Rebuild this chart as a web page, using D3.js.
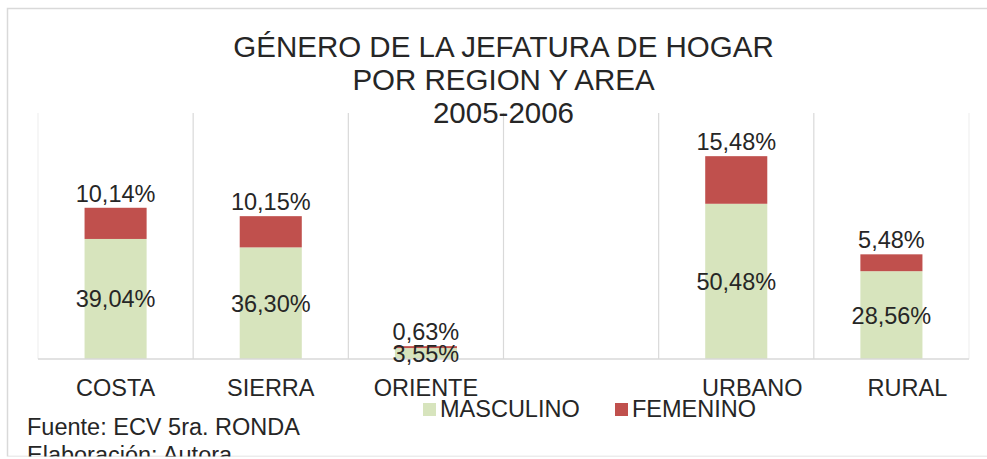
<!DOCTYPE html>
<html>
<head>
<meta charset="utf-8">
<script src="https://cdn.jsdelivr.net/npm/d3@7"></script>
<style>
  body { margin: 0; background: #fff; }
  text { font-family: "Liberation Sans", Arial, sans-serif; fill: #262626; }
</style>
</head>
<body>
<div id="chart"></div>
<script>
// datos
const categories = ["COSTA", "SIERRA", "ORIENTE", " ", "URBANO", "RURAL"];
const masculino = [39.04, 36.30, 3.55, null, 50.48, 28.56];
const femenino = [10.14, 10.15, 0.63, null, 15.48, 5.48];
const seriesNames = ["MASCULINO", "FEMENINO"];
const titleLines = ["GÉNERO DE LA JEFATURA DE HOGAR", "POR REGION Y AREA", "2005-2006"];
const footerLines = ["Fuente: ECV 5ra. RONDA", "Elaboración: Autora"];

const svgWidth = 987;
const svgHeight = 459;
const margin = { top: 113, right: 18, bottom: 100, left: 38 };
const width = svgWidth - margin.left - margin.right;
const height = svgHeight - margin.top - margin.bottom;
const colors = ["#D7E4BD", "#C0504D"];

const fmt = v => d3.format(".2f")(v).replace(".", ",") + "%";

const svg = d3.select("#chart").append("svg")
  .attr("width", svgWidth)
  .attr("height", svgHeight);

// recorta todo al borde inferior del grafico
svg.append("clipPath").attr("id", "frame")
  .append("rect").attr("x", 0).attr("y", 0).attr("width", svgWidth).attr("height", 456.5);

const root = svg.append("g").attr("clip-path", "url(#frame)");

// borde del area del grafico
root.append("rect")
  .attr("x", 7.5).attr("y", 8.5)
  .attr("width", svgWidth + 10).attr("height", 448)
  .attr("fill", "none")
  .attr("stroke", "#D9D9D9")
  .attr("stroke-width", 1.5);

const xScale = d3.scaleBand()
  .domain(categories)
  .range([0, width])
  .paddingInner(0.6)
  .paddingOuter(0.3);

const bandStep = xScale.step();

const yScale = d3.scaleLinear()
  .domain([0, 80])
  .range([height, 0]);

const g = root.append("g")
  .attr("transform", "translate(" + margin.left + "," + margin.top + ")");

// lineas de division entre categorias
const edges = d3.range(categories.length + 1);
g.selectAll(".grid")
  .data(edges)
  .enter().append("line")
  .attr("x1", i => i * bandStep)
  .attr("x2", i => i * bandStep)
  .attr("y1", 0)
  .attr("y2", height)
  .attr("stroke", i => (i === 0 || i === categories.length) ? "#F0F0F0" : "#D9D9D9")
  .attr("stroke-width", 1.2);

const rows = categories.map((c, i) => ({ cat: c, MASCULINO: masculino[i], FEMENINO: femenino[i] }))
  .filter(d => d.MASCULINO != null);

const stacked = d3.stack().keys(seriesNames)(rows);

stacked.forEach((layer, k) => {
  g.selectAll(".bar" + k)
    .data(layer)
    .enter().append("rect")
    .attr("x", d => xScale(d.data.cat))
    .attr("width", xScale.bandwidth())
    .attr("y", d => yScale(d[1]))
    .attr("height", d => yScale(d[0]) - yScale(d[1]))
    .attr("fill", colors[k]);
});

// eje horizontal
g.append("line")
  .attr("x1", 0).attr("x2", width)
  .attr("y1", height).attr("y2", height)
  .attr("stroke", "#D9D9D9")
  .attr("stroke-width", 1.5);

const xAxis = g.append("g")
  .attr("transform", "translate(0," + height + ")")
  .call(d3.axisBottom(xScale).tickSize(0).tickPadding(0));
xAxis.select(".domain").remove();
// en el original las etiquetas despues del hueco salen algo desplazadas
xAxis.selectAll("text")
  .attr("y", 37)
  .attr("dy", 0)
  .attr("dx", (d, i) => i > 3 ? 16 : 0)
  .style("font-size", "23.5px")
  .style("font-family", "'Liberation Sans', Arial, sans-serif")
  .attr("fill", "#262626");

// etiquetas masculino (centro del segmento)
g.selectAll(".lblM")
  .data(stacked[0])
  .enter().append("text")
  .attr("x", d => xScale(d.data.cat) + xScale.bandwidth() / 2)
  .attr("y", d => (yScale(d[0]) + yScale(d[1])) / 2)
  .attr("dy", "0.36em")
  .attr("text-anchor", "middle")
  .style("font-size", "23.5px")
  .text(d => fmt(d.data.MASCULINO));

// etiquetas femenino (sobre la barra)
g.selectAll(".lblF")
  .data(stacked[1])
  .enter().append("text")
  .attr("x", d => xScale(d.data.cat) + xScale.bandwidth() / 2)
  .attr("y", d => yScale(d[1]) - 6)
  .attr("text-anchor", "middle")
  .style("font-size", "23.5px")
  .text(d => fmt(d.data.FEMENINO));

// titulo
root.selectAll(".title")
  .data(titleLines)
  .enter().append("text")
  .attr("x", margin.left + width / 2)
  .attr("y", (d, i) => 57 + i * 33)
  .attr("text-anchor", "middle")
  .style("font-size", "29.5px")
  .text(d => d);

// leyenda
const legendX = [423, 615];
const legend = root.selectAll(".legend")
  .data(seriesNames)
  .enter().append("g")
  .attr("transform", (d, i) => "translate(" + legendX[i] + ",403)");
legend.append("rect")
  .attr("width", 13).attr("height", 13)
  .attr("fill", (d, i) => colors[i]);
legend.append("text")
  .attr("x", 17)
  .attr("y", 14)
  .style("font-size", "23.5px")
  .text(d => d);

// fuente
root.selectAll(".footer")
  .data(footerLines)
  .enter().append("text")
  .attr("x", 27)
  .attr("y", (d, i) => 434.5 + i * 28.5)
  .style("font-size", "23.5px")
  .text(d => d);
</script>
</body>
</html>
